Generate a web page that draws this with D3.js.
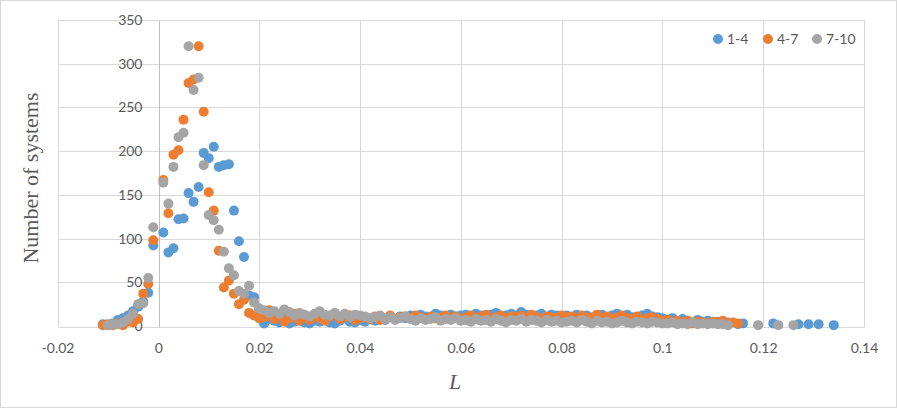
<!DOCTYPE html>
<html>
<head>
<meta charset="utf-8">
<script src="https://cdn.jsdelivr.net/npm/d3@7"></script>
<style>
  html, body { margin: 0; padding: 0; background: #fff; }
  svg { display: block; }
</style>
</head>
<body>
<svg id="chart" width="897" height="408"></svg>
<script>
// L bins (shared by all three series)
const lValues = [
  -0.011, -0.010, -0.009, -0.008, -0.007, -0.006, -0.005, -0.004, -0.003, -0.002, -0.001,
  0.000,
  0.001, 0.002, 0.003, 0.004, 0.005, 0.006, 0.007, 0.008, 0.009, 0.010,
  0.011, 0.012, 0.013, 0.014, 0.015, 0.016, 0.017, 0.018, 0.019, 0.020,
  0.021, 0.022, 0.023, 0.024, 0.025, 0.026, 0.027, 0.028, 0.029, 0.030,
  0.031, 0.032, 0.033, 0.034, 0.035, 0.036, 0.037, 0.038, 0.039, 0.040,
  0.041, 0.042, 0.043, 0.044, 0.045, 0.046, 0.047, 0.048, 0.049, 0.050,
  0.051, 0.052, 0.053, 0.054, 0.055, 0.056, 0.057, 0.058, 0.059, 0.060,
  0.061, 0.062, 0.063, 0.064, 0.065, 0.066, 0.067, 0.068, 0.069, 0.070,
  0.071, 0.072, 0.073, 0.074, 0.075, 0.076, 0.077, 0.078, 0.079, 0.080,
  0.081, 0.082, 0.083, 0.084, 0.085, 0.086, 0.087, 0.088, 0.089, 0.090,
  0.091, 0.092, 0.093, 0.094, 0.095, 0.096, 0.097, 0.098, 0.099, 0.100,
  0.101, 0.102, 0.103, 0.104, 0.105, 0.106, 0.107, 0.108, 0.109, 0.110,
  0.111, 0.112, 0.113, 0.114, 0.115, 0.116, 0.117, 0.118, 0.119, 0.120,
  0.121, 0.122, 0.123, 0.124, 0.125, 0.126, 0.127, 0.128, 0.129, 0.130,
  0.131, 0.132, 0.133, 0.134
];

// Number of systems per L bin, one array per series (null = no point)
const series14 = [
  2, 1, 3, 7, 9, 12, 17, 22, 28, 38, 92,
  null,
  107, 84, 89, 122, 123, 152, 142, 159, 198, 192,
  205, 182, 184, 185, 132, 97, 79, 35, 33, 20,
  3, 8, 6, 4, 9, 3, 5, 7, 4, 3,
  6, 5, 8, 4, 3, 6, 9, 5, 4, 7,
  5, 8, 6, 9, 7, 10, 8, 11, 9, 12,
  10, 13, 11, 9, 14, 12, 10, 13, 11, 12,
  13, 11, 14, 12, 10, 13, 15, 11, 12, 14,
  12, 16, 13, 11, 12, 14, 10, 13, 12, 11,
  12, 10, 13, 11, 12, 9, 11, 13, 10, 12,
  14, 11, 13, 10, 9, 12, 14, 11, 10, 9,
  7, 9, 5, 8, 6, 4, 7, 5, 6, 4,
  5, 3, 4, null, 2, 3, null, null, null, null,
  null, 3, null, null, null, null, 2, null, 2, null,
  2, null, null, 1
];

const series47 = [
  1, 2, 1, 3, 1, 5, 4, 8, 37, 48, 98,
  null,
  167, 129, 196, 201, 236, 278, 282, 320, 245, 153,
  132, 86, 44, 52, 37, 25, 30, 15, 12, 9,
  10, 18, 8, 12, 5, 9, 14, 6, 10, 7,
  12, 9, 6, 11, 13, 8, 10, 12, 7, 9,
  10, 8, 11, 7, 9, 12, 8, 10, 11, 9,
  12, 10, 8, 11, 9, 10, 12, 9, 11, 8,
  10, 12, 9, 11, 13, 8, 10, 12, 9, 11,
  10, 12, 9, 13, 10, 8, 11, 10, 9, 12,
  10, 11, 8, 12, 9, 10, 13, 9, 11, 8,
  10, 12, 9, 8, 11, 7, 9, 10, 8, 6,
  7, 5, 6, 4, 6, 3, 5, 4, 3, 5,
  4, 6, 3, 4, 3, null, null, null, null, null,
  null, null, null, null, null, null, null, null, null, null,
  null, null, null, null
];

const series710 = [
  null, 1, 2, 2, 4, 8, 14, 25, 26, 55, 113,
  null,
  164, 140, 182, 216, 221, 320, 270, 284, 184, 127,
  121, 110, 85, 66, 58, 40, 37, 46, 27, 20,
  18, 15, 17, 14, 19, 16, 12, 15, 13, 11,
  14, 17, 13, 12, 15, 11, 14, 10, 13, 12,
  11, 9, 10, 12, 8, 10, 7, 9, 11, 8,
  6, 9, 7, 8, 10, 6, 8, 7, 9, 6,
  7, 5, 8, 6, 7, 5, 8, 6, 4, 7,
  6, 8, 5, 7, 6, 4, 7, 5, 6, 4,
  5, 6, 4, 7, 5, 3, 6, 4, 5, 3,
  4, 6, 4, 3, 5, 4, 3, 5, 4, 3,
  3, 4, 2, 3, 2, 4, 2, 3, 2, 3,
  2, 2, 1, null, null, null, null, null, 1, null,
  null, null, 1, null, null, 1, null, null, null, null,
  null, null, null, null
];

const seriesNames = ["1-4", "4-7", "7-10"];
const seriesColors = ["#5B9BD5", "#ED7D31", "#A5A5A5"];

const xTickValues = [-0.02, 0, 0.02, 0.04, 0.06, 0.08, 0.1, 0.12, 0.14];
const xTickLabels = ["-0.02", "0", "0.02", "0.04", "0.06", "0.08", "0.1", "0.12", "0.14"];
const yTickValues = [0, 50, 100, 150, 200, 250, 300, 350];

const svg = d3.select("#chart");
const W = 897, H = 408;

// chart-area border
svg.append("rect")
  .attr("x", 0.5).attr("y", 0.5)
  .attr("width", W - 1).attr("height", H - 1)
  .attr("fill", "#fff").attr("stroke", "#D9D9D9");

const plot = { left: 57.5, right: 864, top: 20, bottom: 326 };

const x = d3.scaleLinear().domain([-0.02, 0.14]).range([plot.left, plot.right]);
const y = d3.scaleLinear().domain([0, 350]).range([plot.bottom, plot.top]);

const labelFont = "Lato, 'Open Sans', sans-serif";
const textColor = "#595959";

// gridlines
const grid = svg.append("g").attr("shape-rendering", "crispEdges");
grid.selectAll("line.h")
  .data(yTickValues.filter(v => v !== 0))
  .join("line")
  .attr("x1", plot.left).attr("x2", plot.right)
  .attr("y1", d => Math.round(y(d)) + 0.5).attr("y2", d => Math.round(y(d)) + 0.5)
  .attr("stroke", "#D9D9D9");
grid.selectAll("line.v")
  .data(xTickValues.filter(v => v !== 0))
  .join("line")
  .attr("x1", d => Math.round(x(d)) + 0.5).attr("x2", d => Math.round(x(d)) + 0.5)
  .attr("y1", plot.top).attr("y2", plot.bottom)
  .attr("stroke", "#D9D9D9");

// horizontal axis along y = 0, labels sit below it
const xAxis = d3.axisBottom(x)
  .tickValues(xTickValues)
  .tickFormat((d, i) => xTickLabels[i])
  .tickSize(0)
  .tickPadding(17);
const gx = svg.append("g")
  .attr("transform", `translate(0,${Math.round(y(0)) + 0.5})`)
  .call(xAxis);
gx.select(".domain").attr("stroke", "#D9D9D9").attr("shape-rendering", "crispEdges");
gx.selectAll("text")
  .attr("font-family", labelFont).attr("font-size", 14)
  .attr("fill", textColor);

// vertical axis crossing at L = 0
const yAxis = d3.axisLeft(y)
  .tickValues(yTickValues)
  .tickSize(0)
  .tickPadding(16);
const gy = svg.append("g")
  .attr("transform", `translate(${Math.round(x(0)) + 0.5},0)`)
  .call(yAxis);
gy.select(".domain").attr("stroke", "#BFBFBF").attr("shape-rendering", "crispEdges");
gy.selectAll("text")
  .attr("font-family", labelFont).attr("font-size", 14)
  .attr("fill", textColor);

// scatter markers, series drawn in order so later ones sit on top
const allSeries = [series14, series47, series710];
allSeries.forEach((vals, si) => {
  const pts = lValues.map((l, i) => ({ l, v: vals[i] })).filter(d => d.v !== null);
  svg.append("g")
    .selectAll("circle")
    .data(pts)
    .join("circle")
    .attr("cx", d => x(d.l))
    .attr("cy", d => y(d.v))
    .attr("r", 5)
    .attr("fill", seriesColors[si]);
});

// axis titles
svg.append("text")
  .attr("x", 455)
  .attr("y", 389)
  .attr("text-anchor", "middle")
  .attr("font-family", "'Liberation Serif', 'Times New Roman', serif")
  .attr("font-style", "italic")
  .attr("font-size", 22)
  .attr("fill", textColor)
  .text("L");

svg.append("text")
  .attr("transform", `translate(38,178) rotate(-90)`)
  .attr("text-anchor", "middle")
  .attr("font-family", "'Liberation Serif', 'Times New Roman', serif")
  .attr("font-size", 22)
  .attr("fill", textColor)
  .text("Number of systems");

// legend
const legendX = [718, 768, 817];
const legend = svg.append("g");
seriesNames.forEach((name, i) => {
  legend.append("circle")
    .attr("cx", legendX[i]).attr("cy", 39).attr("r", 5)
    .attr("fill", seriesColors[i]);
  legend.append("text")
    .attr("x", legendX[i] + 9).attr("y", 39)
    .attr("dy", "0.35em")
    .attr("font-family", labelFont).attr("font-size", 14)
    .attr("fill", textColor)
    .text(name);
});
</script>
</body>
</html>
